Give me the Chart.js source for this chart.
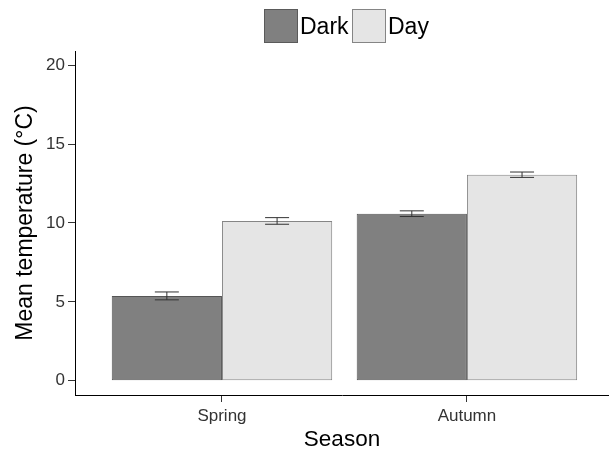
<!DOCTYPE html>
<html>
<head>
<meta charset="utf-8">
<script src="https://cdn.jsdelivr.net/npm/chart.js@4/dist/chart.umd.min.js"></script>
<style>
  html, body { margin: 0; padding: 0; background: #fff; }
  #wrap { position: relative; width: 609px; height: 453px; }
  canvas { position: absolute; left: 0; top: 0; }
  .key { position: absolute; top: 9px; height: 34px; display: flex; align-items: center;
         font-family: "Liberation Sans", Arial, sans-serif; font-size: 23px; color: #000; }
  .swatch { position: absolute; top: 9px; width: 32px; height: 32px; border: 1px solid #666; }
</style>
</head>
<body>
<div id="wrap">
  <canvas id="chart" width="609" height="453"></canvas>
  <div class="swatch" style="left:264px;background:#808080;border-color:#5a5a5a"></div>
  <div class="key" style="left:300px">Dark</div>
  <div class="swatch" style="left:352px;background:#e5e5e5;border-color:#858585"></div>
  <div class="key" style="left:388px">Day</div>
</div>
<script>
// Seasons on the x axis (placed at positions 1 and 2)
const seasons = ['Spring', 'Autumn'];
const seasonPos = [1, 2];

// Mean temperature (°C) and standard error per season
const darkMeans = [5.38, 10.59];
const darkErr   = [0.25, 0.18];
const dayMeans  = [10.13, 13.06];
const dayErr    = [0.21, 0.17];

const yTicks = [0, 5, 10, 15, 20];

const FONT = '"Liberation Sans", Arial, sans-serif';

function points(means) {
  return means.map((v, i) => ({ x: seasonPos[i], y: v }));
}

// Whiskers drawn over each bar from the error arrays
const errorBars = {
  id: 'errorBars',
  afterDatasetsDraw(chart) {
    const ctx = chart.ctx;
    const y = chart.scales.y;
    chart.data.datasets.forEach((ds, di) => {
      const meta = chart.getDatasetMeta(di);
      meta.data.forEach((bar, j) => {
        const m = ds.data[j].y, e = ds.errors[j];
        const top = y.getPixelForValue(m + e);
        const bot = y.getPixelForValue(m - e);
        const cx = bar.x, hw = 12;
        ctx.save();
        ctx.strokeStyle = '#333';
        ctx.lineWidth = 1;
        ctx.beginPath();
        ctx.moveTo(cx - hw, top); ctx.lineTo(cx + hw, top);
        ctx.moveTo(cx - hw, bot); ctx.lineTo(cx + hw, bot);
        ctx.moveTo(cx, top); ctx.lineTo(cx, bot);
        ctx.stroke();
        ctx.restore();
      });
    });
  }
};

new Chart(document.getElementById('chart'), {
  type: 'bar',
  data: {
    datasets: [
      { label: 'Dark', data: points(darkMeans), errors: darkErr,
        backgroundColor: '#808080', borderColor: '#555555', borderWidth: 1, borderSkipped: false },
      { label: 'Day', data: points(dayMeans), errors: dayErr,
        backgroundColor: '#e5e5e5', borderColor: '#858585', borderWidth: 1, borderSkipped: false }
    ]
  },
  options: {
    responsive: false,
    animation: false,
    layout: { padding: { top: 51, right: 0, left: 0, bottom: 0 } },
    datasets: { bar: { categoryPercentage: 0.9, barPercentage: 1.0, grouped: true } },
    plugins: { legend: { display: false }, tooltip: { enabled: false } },
    scales: {
      x: {
        type: 'linear',
        offset: false,
        min: 0.4, max: 2.58,
        afterBuildTicks(scale) { scale.ticks = seasonPos.map(v => ({ value: v })); },
        afterFit(scale) { scale.height = 58; },
        ticks: {
          callback: (v) => seasons[seasonPos.indexOf(v)] ?? '',
          color: '#333', font: { family: FONT, size: 17 }, padding: 4, maxRotation: 0
        },
        grid: { offset: false, drawOnChartArea: false, drawTicks: true, tickLength: 7, color: '#333' },
        border: { display: true, color: '#000', width: 1 },
        title: { display: true, text: 'Season', color: '#000',
                 font: { family: FONT, size: 22.5 }, padding: { top: 0, bottom: 0 } }
      },
      y: {
        min: -0.9, max: 20.9,
        afterBuildTicks(scale) { scale.ticks = yTicks.map(v => ({ value: v })); },
        afterFit(scale) { scale.width = 75; },
        ticks: { color: '#333', font: { family: FONT, size: 17 }, padding: 3 },
        grid: { drawOnChartArea: false, drawTicks: true, tickLength: 7, color: '#333' },
        border: { display: true, color: '#000', width: 1 },
        title: { display: true, text: 'Mean temperature (°C)', color: '#000',
                 font: { family: FONT, size: 23 }, padding: { top: 12, bottom: 0 } }
      }
    }
  },
  plugins: [errorBars]
});
</script>
</body>
</html>
